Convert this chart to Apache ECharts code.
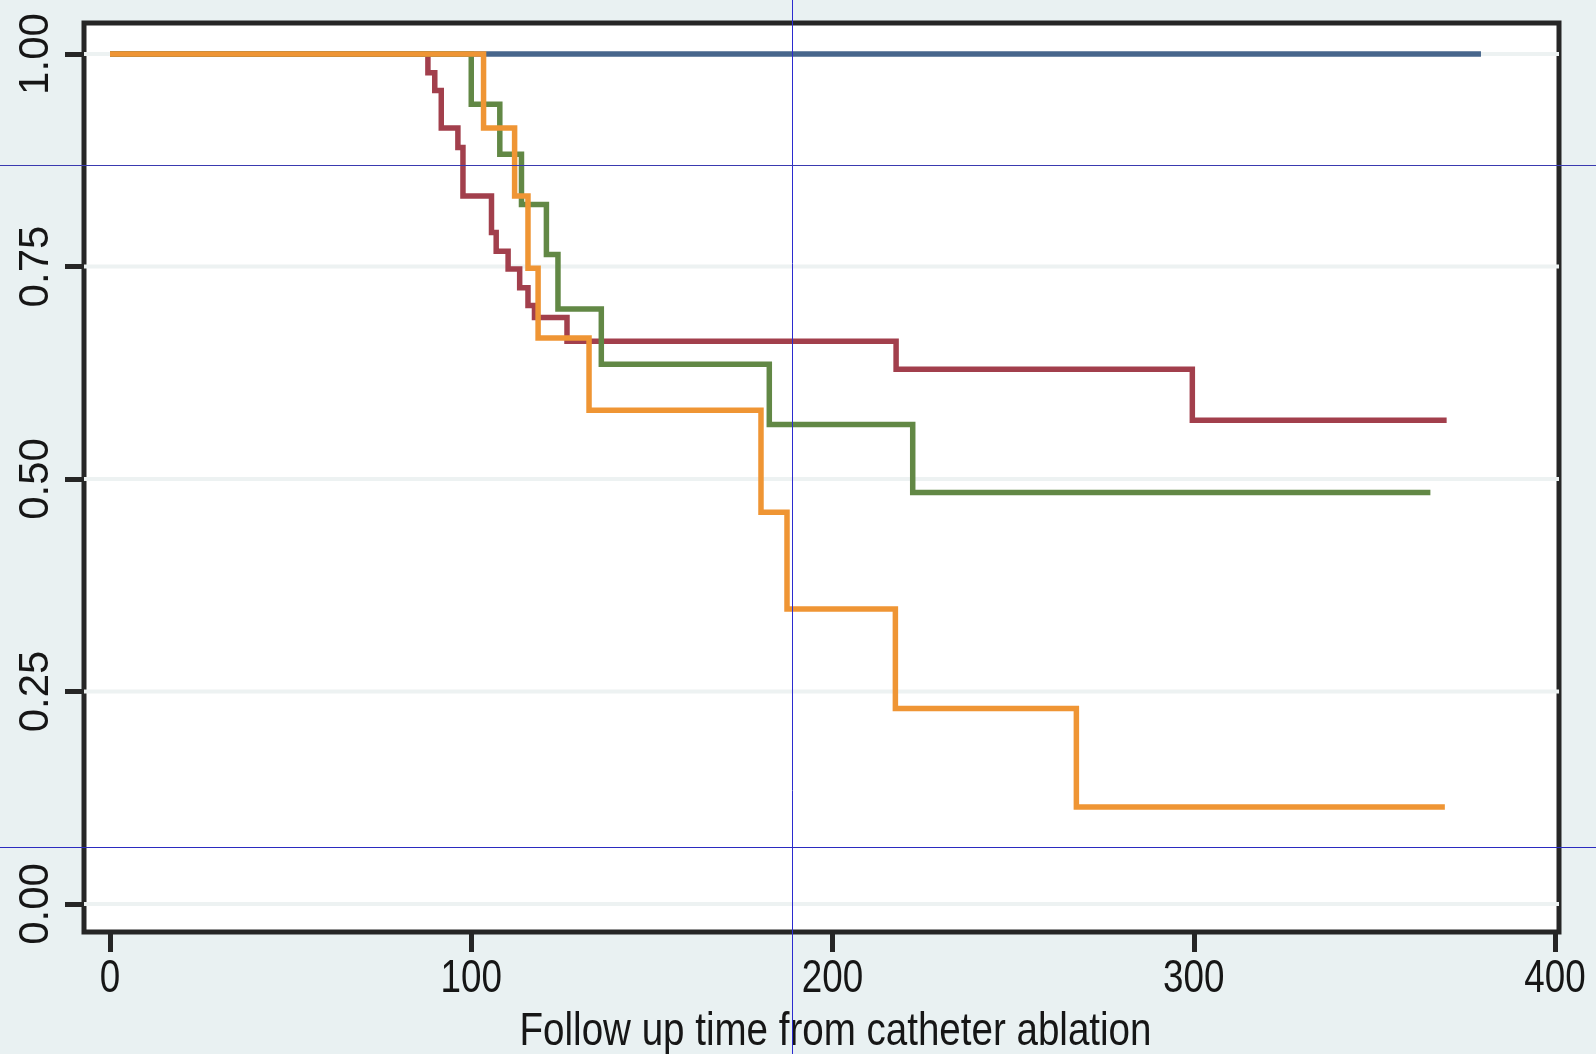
<!DOCTYPE html>
<html>
<head>
<meta charset="utf-8">
<title>Kaplan-Meier: follow up time from catheter ablation</title>
<script src="https://cdn.jsdelivr.net/npm/echarts@6/dist/echarts.min.js"></script>
<style>
  html, body { margin: 0; padding: 0; background: #e9f1f2; }
  #chart { width: 1596px; height: 1054px; }
</style>
</head>
<body>
<div id="chart"></div>
<script>
// Survival step curves (time in days, survival fraction)
const blueTimes   = [0, 379.5];
const blueSurv    = [1.00, 1.00];

const redTimes    = [0, 88.0, 89.9, 91.7, 96.3, 97.7, 105.6, 106.9, 110.2, 113.4, 115.7, 117.5, 126.5, 217.6, 299.6, 370];
const redSurv     = [1.00, 0.978, 0.957, 0.913, 0.890, 0.833, 0.790, 0.768, 0.747, 0.725, 0.704, 0.690, 0.662, 0.629, 0.569, 0.569];

const greenTimes  = [0, 100.0, 107.9, 113.9, 120.8, 124.0, 136.0, 182.5, 222.2, 365.5];
const greenSurv   = [1.00, 0.941, 0.882, 0.823, 0.764, 0.700, 0.635, 0.564, 0.484, 0.484];

const orangeTimes = [0, 103.4, 112.0, 115.7, 118.5, 132.6, 180.2, 187.4, 217.4, 267.5, 369.5];
const orangeSurv  = [1.00, 0.913, 0.833, 0.748, 0.666, 0.581, 0.461, 0.347, 0.230, 0.114, 0.114];

// Axis ticks and labels
const xTicks = [0, 100, 200, 300, 400];
const yTicks = [0, 0.25, 0.5, 0.75, 1];
const xTitle = 'Follow up time from catheter ablation';

const X_MIN = -7.2, X_MAX = 401.1;
const Y_MIN = -0.033, Y_MAX = 1.0365;
const INK = '#161616';
const FRAME = '#262626';

const zip = (xs, ys) => xs.map((x, i) => [x, ys[i]]);

const stepSeries = (times, surv, color) => ({
  type: 'line',
  step: 'end',
  data: zip(times, surv),
  showSymbol: false,
  symbol: 'none',
  z: 3,
  lineStyle: { color: color, width: 5.5, cap: 'butt', join: 'miter' },
  emphasis: { disabled: true }
});

// faint horizontal gridline across the plot at a y tick
const gridLineSeries = v => ({
  type: 'line',
  data: [[X_MIN, v], [X_MAX, v]],
  showSymbol: false,
  symbol: 'none',
  silent: true,
  z: 1,
  lineStyle: { color: '#edf2f2', width: 4 },
  emphasis: { disabled: true }
});

// thin blue guide lines across the whole page
const guideLines = [
  { id: 'guide-v',  type: 'line', z: 100, silent: true, shape: { x1: 792.5, y1: 0, x2: 792.5, y2: 1054 }, style: { stroke: '#2b2bd0', lineWidth: 1 } },
  { id: 'guide-h1', type: 'line', z: 100, silent: true, shape: { x1: 0, y1: 165.5, x2: 1596, y2: 165.5 }, style: { stroke: '#3a3ab0', lineWidth: 1 } },
  { id: 'guide-h2', type: 'line', z: 100, silent: true, shape: { x1: 0, y1: 847.5, x2: 1596, y2: 847.5 }, style: { stroke: '#2b2bc0', lineWidth: 1 } }
];

const chart = echarts.init(document.getElementById('chart'), null, { renderer: 'canvas' });

chart.setOption({
  animation: false,
  backgroundColor: '#e9f1f2',
  grid: {
    left: 84, right: 37, top: 23, bottom: 122,
    show: true,
    backgroundColor: '#ffffff',
    borderColor: FRAME,
    borderWidth: 5
  },
  xAxis: {
    type: 'value',
    min: X_MIN,
    max: X_MAX,
    axisLine: { show: false, onZero: false },
    splitLine: { show: false },
    axisTick: {
      show: true,
      customValues: xTicks,
      length: 20,
      lineStyle: { color: FRAME, width: 5 }
    },
    // tick labels are drawn below as condensed text
    axisLabel: { show: false }
  },
  yAxis: {
    type: 'value',
    min: Y_MIN,
    max: Y_MAX,
    axisLine: { show: false, onZero: false },
    splitLine: { show: false },
    axisTick: {
      show: true,
      customValues: yTicks,
      length: 19,
      lineStyle: { color: FRAME, width: 5 }
    },
    axisLabel: {
      customValues: yTicks,
      rotate: 90,
      margin: 27,
      color: INK,
      fontFamily: "'Liberation Sans', Arial, sans-serif",
      fontSize: 42,
      formatter: v => v.toFixed(2)
    }
  },
  series: [
    ...yTicks.map(gridLineSeries),
    stepSeries(blueTimes, blueSurv, '#47668c'),
    stepSeries(redTimes, redSurv, '#a23f4c'),
    stepSeries(greenTimes, greenSurv, '#628845'),
    stepSeries(orangeTimes, orangeSurv, '#ef9534')
  ],
  graphic: guideLines
});

// Condensed x tick labels and axis title, placed through the x axis scale
const gridBottom = chart.convertToPixel({ yAxisIndex: 0 }, Y_MIN);
const xLabelTexts = xTicks.map((v, i) => ({
  id: 'xlab-' + i,
  type: 'text',
  silent: true,
  x: chart.convertToPixel({ xAxisIndex: 0 }, v),
  y: gridBottom + 47,
  scaleX: 0.8,
  style: {
    text: String(v),
    fill: INK,
    fontSize: 46,
    fontFamily: "'Liberation Sans', Arial, sans-serif",
    align: 'center',
    verticalAlign: 'middle'
  }
}));

const titleText = {
  id: 'xtitle',
  type: 'text',
  silent: true,
  x: chart.convertToPixel({ xAxisIndex: 0 }, (xTicks[0] + xTicks[xTicks.length - 1]) / 2) + 3,
  y: gridBottom + 100,
  scaleX: 0.82,
  style: {
    text: xTitle,
    fill: INK,
    fontSize: 47,
    fontFamily: "'Liberation Sans', Arial, sans-serif",
    align: 'center',
    verticalAlign: 'middle'
  }
};

chart.setOption({ graphic: guideLines.concat(xLabelTexts, [titleText]) });
</script>
</body>
</html>
